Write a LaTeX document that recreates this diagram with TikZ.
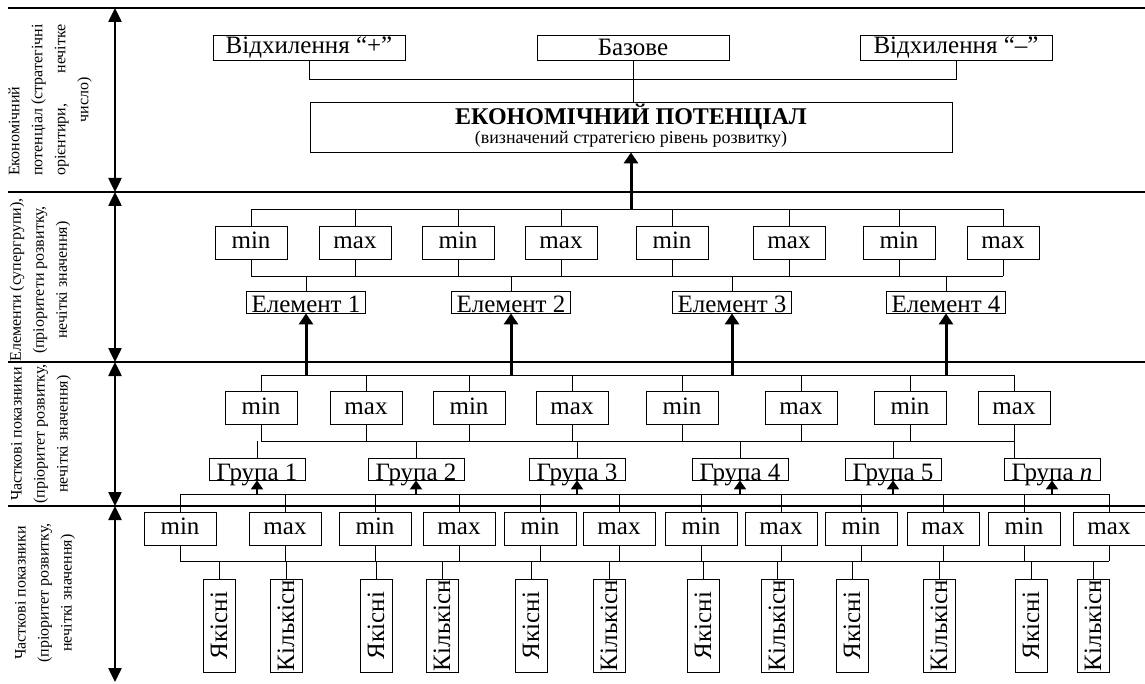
\documentclass[tikz,border=0pt]{standalone}
\usepackage{fontspec}
\setmainfont{Liberation Serif}
\usetikzlibrary{arrows.meta}

\newcommand{\fsz}[1]{\fontsize{#1}{#1}\selectfont}
\newlength{\lbw}

\begin{document}
\settowidth{\lbw}{\fontsize{16}{23}\selectfont потенціал (стратегічні}
\begin{tikzpicture}[x=1pt, y=-1pt,
    box/.style={draw, rectangle, inner sep=0pt, line width=0.8pt, font=\fsz{25}},
    topbox/.style={box, minimum width=192pt, minimum height=25pt},
    mmbox/.style={box, minimum width=72pt, minimum height=33pt, text height=16pt, text depth=4pt},
    lowbox/.style={box, text height=22pt, text depth=0pt},
    vbox/.style={box, rotate=90, minimum width=93pt, minimum height=32pt},
    side/.style={rotate=90, align=center, inner sep=0pt, font=\fontsize{16}{23}\selectfont},
    conn/.style={line width=0.8pt},
    sepline/.style={line width=2pt},
    dblarrow/.style={line width=2.5pt, {Triangle[length=14pt,width=13pt]}-{Triangle[length=14pt,width=13pt]}},
    bigarrow/.style={line width=3pt, -{Triangle[length=11pt,width=14pt]}},
    smallarrow/.style={line width=2pt, -{Triangle[length=9pt,width=12pt]}}
]
    \useasboundingbox (0,0) rectangle (1145,684);

    % levels and buses
    \foreach \y in {8,192,362,506}
        \draw[sepline] (8,\y) -- (1145,\y);
    \coordinate (l0) at (115,8);
    \coordinate (l1) at (115,192);
    \coordinate (l2) at (115,362);
    \coordinate (l3) at (115,506);
    \coordinate (l4) at (115,682);
    \coordinate (bus1) at (0,79);
    \coordinate (bus2t) at (0,209);
    \coordinate (bus2b) at (0,276);
    \coordinate (bus3t) at (0,375);
    \coordinate (bus3b) at (0,441);
    \coordinate (bus4t) at (0,494);
    \coordinate (bus4b) at (0,561);

    \draw[dblarrow] (l0) -- (l1);
    \draw[dblarrow] (l1) -- (l2);
    \draw[dblarrow] (l2) -- (l3);
    \draw[dblarrow] (l3) -- (l4);

    % side labels
    \node[side] (lab1) at (50,100) {\hbox to\lbw{Економічний\hfil}\\потенціал (стратегічні\\\hbox to\lbw{орієнтири,\hfil нечітке}\\число)};
    \node[side] (lab2) at (40,280) {Елементи (супергрупи),\\(пріоритети розвитку,\\нечіткі значення)};
    \node[side] (lab3) at (41,434) {Часткові показники\\(пріоритет розвитку,\\нечіткі значення)};
    \node[side] (lab4) at (45,593) {Часткові показники\\(пріоритет розвитку,\\нечіткі значення)};

    % top level
    \node[topbox] (dplus) at (309,47.5) {Відхилення “+”};
    \node[topbox] (base) at (633,47.5) {Базове};
    \node[topbox] (dminus) at (956,47.5) {Відхилення “–”};
    \node[box, minimum width=642pt, minimum height=50pt] (potential) at (631,127) {};
    \node[font=\fsz{24}\bfseries, inner sep=0pt] (ptitle) at (631,117) {ЕКОНОМІЧНИЙ ПОТЕНЦІАЛ};
    \node[font=\fsz{18}, inner sep=0pt] (psub) at (631,139) {(визначений стратегією рівень розвитку)};
    \draw[conn] (dplus.south) |- (bus1 -| dminus.south) -- (dminus.south);
    \draw[conn] (base.south) -- (base.south |- potential.north);
    \draw[bigarrow] (potential.south |- bus2t) -- (potential.south);

    % elements
    \foreach \x/\t [count=\i] in {251/min,355/max,458/min,561/max,672/min,789/max,899/min,1003/max} {
        \node[mmbox] (r2b\i) at (\x,242.5) {\t};
        \draw[conn] (r2b\i.north) -- (r2b\i.north |- bus2t);
        \draw[conn] (r2b\i.south) -- (r2b\i.south |- bus2b);
    }
    \draw[conn] (bus2t -| r2b1) -- (bus2t -| r2b8);
    \draw[conn] (bus2b -| r2b1) -- (bus2b -| r2b8);
    \foreach \x [count=\i] in {306,511,732,946} {
        \node[lowbox, minimum width=119pt] (el\i) at (\x,302) {Елемент \i};
        \draw[conn] (el\i.north) -- (el\i.north |- bus2b);
        \draw[bigarrow] (el\i.south |- bus3t) -- (el\i.south);
    }

    % groups
    \foreach \x/\t [count=\i] in {261/min,366/max,469/min,572/max,682/min,801/max,910/min,1014/max} {
        \node[mmbox] (r3b\i) at (\x,408) {\t};
        \draw[conn] (r3b\i.north) -- (r3b\i.north |- bus3t);
        \draw[conn] (r3b\i.south) -- (r3b\i.south |- bus3b);
    }
    \draw[conn] (bus3t -| r3b1) -- (bus3t -| r3b8);
    \draw[conn] (bus3b -| r3b1) -- (bus3b -| r3b8);
    \foreach \x/\t [count=\i] in {257/1,416/2,577/3,740/4,893/5,1052/\textit{n}} {
        \node[lowbox, minimum width=96pt] (g\i) at (\x,469) {Група \t};
        \draw[smallarrow] (g\i.south |- bus4t) -- (g\i.south);
    }
    \foreach \i in {1,...,5}
        \draw[conn] (g\i.north) -- (g\i.north |- bus3b);
    \draw[conn] (g6.north -| r3b8) -- (bus3b -| r3b8);

    % indicators
    \foreach \x/\t [count=\i] in {180/min,285/max,375/min,459/max,540/min,619/max,701/min,781/max,861/min,943/max,1024/min,1109/max} {
        \node[mmbox] (r4b\i) at (\x,528.5) {\t};
        \draw[conn] (r4b\i.north) -- (r4b\i.north |- bus4t);
        \draw[conn] (r4b\i.south) -- (r4b\i.south |- bus4b);
    }
    \draw[conn] (bus4t -| r4b1) -- (bus4t -| r4b12);
    \draw[conn] (bus4b -| r4b1) -- (bus4b -| r4b12);
    \foreach \x/\t [count=\i] in {219/Якісні,286/Кількісн,376/Якісні,442/Кількісн,531/Якісні,609/Кількісн,703/Якісні,777/Кількісн,852/Якісні,939/Кількісн,1031/Якісні,1093/Кількісн} {
        \node[vbox] (v\i) at (\x,625.5) {\t};
        \draw[conn] (v\i.east) -- (v\i.east |- bus4b);
    }
\end{tikzpicture}
\end{document}
